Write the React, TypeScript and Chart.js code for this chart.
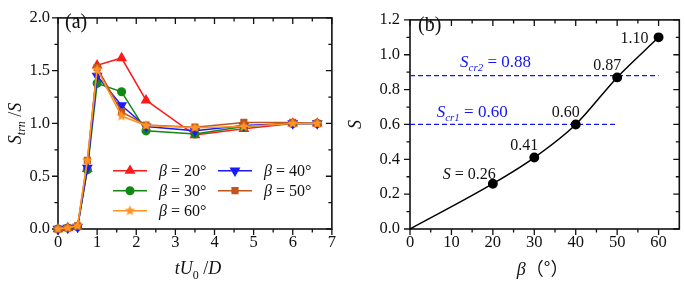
import React, { useEffect, useRef } from 'react';
import { Chart, registerables } from 'chart.js';
import { drawPoint } from 'chart.js/helpers';
Chart.register(...registerables);

// ---------- Panel (a) data ----------
const TIME = [0, 0.25, 0.5, 0.75, 1.0, 1.625, 2.25, 3.5, 4.75, 6.0, 6.625];
const S20 = [0, 0.01, 0.02, 0.57, 1.55, 1.62, 1.22, 0.89, 0.95, 1.0, 1.0];
const S30 = [0, 0.01, 0.02, 0.56, 1.38, 1.3, 0.93, 0.9, 0.97, 1.0, 1.0];
const S40 = [0, 0.01, 0.02, 0.58, 1.45, 1.17, 0.97, 0.93, 0.98, 1.0, 1.0];
const S50 = [0, 0.01, 0.03, 0.65, 1.53, 1.11, 0.985, 0.965, 1.01, 1.01, 1.0];
const S60 = [0, 0.01, 0.03, 0.65, 1.51, 1.07, 0.98, 0.96, 0.97, 1.0, 1.0];
const LEGEND_LABELS = ['β = 20°', 'β = 30°', 'β = 40°', 'β = 50°', 'β = 60°'];
const A_X_TICKS = [0, 1, 2, 3, 4, 5, 6, 7];
const A_Y_TICKS = [0, 0.5, 1.0, 1.5, 2.0];

// ---------- Panel (b) data ----------
const BETA = [0, 20, 30, 40, 50, 60];
const S_VAL = [0, 0.26, 0.41, 0.6, 0.87, 1.1];
const POINT_LABELS = ['', 'S = 0.26', '0.41', '0.60', '0.87', '1.10'];
const SCR_VALUES = [0.6, 0.88];
const SCR_ENDS = [50, 60];
const SCR_LABELS = [['S', 'cr1', ' = 0.60'], ['S', 'cr2', ' = 0.88']];
const B_X_TICKS = [0, 10, 20, 30, 40, 50, 60];
const B_Y_TICKS = [0, 0.2, 0.4, 0.6, 0.8, 1.0, 1.2];

const SERIF = "'Liberation Serif', 'Times New Roman', serif";
const RED = '#ff1a1a';
const GREEN = '#128a12';
const BLUE = '#1a1aff';
const BROWN = '#c0561a';
const ORANGE = '#ff9424';
const DASH_BLUE = '#1515f0';

type Part = { t: string; font: string; dy?: number };

function drawRich(ctx: CanvasRenderingContext2D, parts: Part[], x: number, y: number, align: 'left' | 'center' | 'right') {
  let w = 0;
  for (const p of parts) {
    ctx.font = p.font;
    w += ctx.measureText(p.t).width;
  }
  let cx = align === 'center' ? x - w / 2 : align === 'right' ? x - w : x;
  ctx.textAlign = 'left';
  ctx.textBaseline = 'alphabetic';
  for (const p of parts) {
    ctx.font = p.font;
    ctx.fillText(p.t, cx, y + (p.dy || 0));
    cx += ctx.measureText(p.t).width;
  }
}

function minors(arr: number[]) {
  return arr.slice(1).map((v, i) => (v + arr[i]) / 2);
}

function frameAndTicks(chart: any, xMajor: number[], yMajor: number[]) {
  const { ctx, chartArea } = chart;
  const { left, right, top, bottom } = chartArea;
  const xs = chart.scales.x;
  const ys = chart.scales.y;
  const MAJ = 6;
  const MIN = 3.5;
  ctx.save();
  ctx.strokeStyle = '#111';
  ctx.lineWidth = 1.6;
  ctx.strokeRect(left, top, right - left, bottom - top);
  ctx.lineWidth = 1.3;
  ctx.beginPath();
  const xm = minors(xMajor);
  const ym = minors(yMajor);
  const xTick = (v: number, len: number) => {
    const p = xs.getPixelForValue(v);
    ctx.moveTo(p, bottom);
    ctx.lineTo(p, bottom + len);
    ctx.moveTo(p, top);
    ctx.lineTo(p, top + len);
  };
  const yTick = (v: number, len: number) => {
    const p = ys.getPixelForValue(v);
    ctx.moveTo(left - len, p);
    ctx.lineTo(left, p);
    ctx.moveTo(right - len, p);
    ctx.lineTo(right, p);
  };
  xMajor.forEach((v) => xTick(v, MAJ));
  xm.forEach((v) => xTick(v, MIN));
  yMajor.forEach((v) => yTick(v, MAJ));
  ym.forEach((v) => yTick(v, MIN));
  ctx.stroke();
  ctx.restore();
}

function makeStar(color: string, R: number) {
  const c = document.createElement('canvas');
  const s = Math.ceil(2 * R + 2);
  c.width = s;
  c.height = s;
  const g = c.getContext('2d')!;
  g.fillStyle = color;
  g.beginPath();
  for (let i = 0; i < 10; i++) {
    const ang = -Math.PI / 2 + (i * Math.PI) / 5;
    const rr = i % 2 ? R * 0.45 : R;
    g.lineTo(s / 2 + rr * Math.cos(ang), s / 2 + rr * Math.sin(ang));
  }
  g.closePath();
  g.fill();
  return c;
}

function tickScale(ticks: number[], fmt: (v: number) => string, padding: number, fitSize: number, horizontal: boolean, min: number, max: number) {
  return {
    type: 'linear',
    min,
    max,
    afterBuildTicks: (s: any) => {
      s.ticks = ticks.map((v) => ({ value: v }));
    },
    afterFit: (s: any) => {
      if (horizontal) s.height = fitSize;
      else s.width = fitSize;
    },
    ticks: {
      autoSkip: false,
      maxRotation: 0,
      padding,
      color: '#111',
      font: { family: SERIF, size: 16.5 },
      callback: (v: any) => fmt(Number(v)),
    },
    grid: { display: false, drawTicks: false },
    border: { display: false },
  };
}

export default function App() {
  const refA = useRef<HTMLCanvasElement>(null);
  const refB = useRef<HTMLCanvasElement>(null);

  useEffect(() => {
    const star = makeStar(ORANGE, 5.5);
    const series = [
      { label: LEGEND_LABELS[0], data: S20, color: RED, style: 'triangle' as any, rotation: 0, radius: 4.8, order: 4 },
      { label: LEGEND_LABELS[1], data: S30, color: GREEN, style: 'circle' as any, rotation: 0, radius: 3.8, order: 3 },
      { label: LEGEND_LABELS[2], data: S40, color: BLUE, style: 'triangle' as any, rotation: 180, radius: 4.8, order: 2 },
      { label: LEGEND_LABELS[3], data: S50, color: BROWN, style: 'rect' as any, rotation: 0, radius: 4, order: 1 },
      { label: LEGEND_LABELS[4], data: S60, color: ORANGE, style: star as any, rotation: 0, radius: 5, order: 0 },
    ];

    const pluginA = {
      id: 'panelA',
      beforeDatasetsDraw(chart: any) {
        frameAndTicks(chart, A_X_TICKS, A_Y_TICKS);
      },
      afterDraw(chart: any) {
        const { ctx, chartArea } = chart;
        ctx.save();
        ctx.fillStyle = '#111';
        drawRich(ctx, [{ t: '(a)', font: `20px ${SERIF}` }], 65, 28, 'left');
        drawRich(
          ctx,
          [
            { t: 'tU', font: `italic 18px ${SERIF}` },
            { t: '0', font: `12px ${SERIF}`, dy: 5 },
            { t: ' /', font: `18px ${SERIF}` },
            { t: 'D', font: `italic 18px ${SERIF}` },
          ],
          (chartArea.left + chartArea.right) / 2 + 3,
          274,
          'center'
        );
        ctx.save();
        ctx.translate(20.5, (chartArea.top + chartArea.bottom) / 2);
        ctx.rotate(-Math.PI / 2);
        drawRich(
          ctx,
          [
            { t: 'S', font: `italic 18px ${SERIF}` },
            { t: 'trn', font: `italic 12px ${SERIF}`, dy: 4 },
            { t: ' /', font: `18px ${SERIF}` },
            { t: 'S', font: `italic 18px ${SERIF}` },
          ],
          0,
          0,
          'center'
        );
        ctx.restore();
        const slots = [
          [0, 0],
          [0, 1],
          [1, 0],
          [1, 1],
          [0, 2],
        ];
        const colX = [113, 218];
        const rowY = [170.7, 190.7, 210.7];
        series.forEach((s, i) => {
          const [c, r] = slots[i];
          const x0 = colX[c];
          const y0 = rowY[r];
          ctx.strokeStyle = s.color;
          ctx.lineWidth = 1.5;
          ctx.beginPath();
          ctx.moveTo(x0, y0);
          ctx.lineTo(x0 + 34, y0);
          ctx.stroke();
          ctx.fillStyle = s.color;
          drawPoint(ctx, { pointStyle: s.style, rotation: s.rotation, radius: s.radius, borderWidth: 1 } as any, x0 + 17, y0);
          ctx.fillStyle = '#111';
          drawRich(
            ctx,
            [
              { t: s.label.slice(0, 1), font: `italic 16px ${SERIF}` },
              { t: s.label.slice(1), font: `16px ${SERIF}` },
            ],
            x0 + 46,
            y0 + 5.5,
            'left'
          );
        });
        ctx.restore();
      },
    };

    const chartA = new Chart(refA.current!, {
      type: 'line',
      data: {
        datasets: series.map((s) => ({
          label: s.label,
          data: TIME.map((t, i) => ({ x: t, y: s.data[i] })),
          borderColor: s.color,
          backgroundColor: s.color,
          pointBackgroundColor: s.color,
          pointBorderColor: s.color,
          pointStyle: s.style,
          pointRotation: s.rotation,
          pointRadius: s.radius,
          borderWidth: 1.5,
          tension: 0,
          order: s.order,
          clip: false as any,
        })),
      },
      options: {
        animation: false,
        responsive: false,
        maintainAspectRatio: false,
        layout: { padding: { top: 6, right: 8, left: 0, bottom: 0 } },
        plugins: { legend: { display: false }, tooltip: { enabled: false } },
        scales: {
          x: tickScale(A_X_TICKS, (v) => String(v), 4, 55, true, 0, 7) as any,
          y: tickScale(A_Y_TICKS, (v) => v.toFixed(1), 8, 58, false, 0, 2) as any,
        },
      },
      plugins: [pluginA],
    });

    const pluginB = {
      id: 'panelB',
      beforeDatasetsDraw(chart: any) {
        frameAndTicks(chart, B_X_TICKS, B_Y_TICKS);
      },
      afterDraw(chart: any) {
        const { ctx, chartArea } = chart;
        const xs = chart.scales.x;
        const ys = chart.scales.y;
        ctx.save();
        ctx.fillStyle = '#111';
        drawRich(ctx, [{ t: '(b)', font: `20px ${SERIF}` }], chartArea.left + 8, 31, 'left');
        ctx.save();
        ctx.font = `italic 18px ${SERIF}`;
        const bw = ctx.measureText('β').width;
        ctx.font = `18px 'Noto Sans CJK SC', sans-serif`;
        const pw = ctx.measureText('（°）').width;
        const startX = (chartArea.left + chartArea.right) / 2 - 2 - (bw + pw) / 2;
        drawRich(
          ctx,
          [
            { t: 'β', font: `italic 18px ${SERIF}` },
            { t: '（°）', font: `18px 'Noto Sans CJK SC', sans-serif` },
          ],
          startX,
          275,
          'left'
        );
        ctx.restore();
        ctx.save();
        ctx.translate(21, (chartArea.top + chartArea.bottom) / 2);
        ctx.rotate(-Math.PI / 2);
        drawRich(ctx, [{ t: 'S', font: `italic 18px ${SERIF}` }], 0, 0, 'center');
        ctx.restore();
        for (let i = 1; i < BETA.length; i++) {
          const px = xs.getPixelForValue(BETA[i]);
          const py = ys.getPixelForValue(S_VAL[i]);
          const txt = POINT_LABELS[i];
          if (i === 1) {
            drawRich(
              ctx,
              [
                { t: txt.slice(0, 1), font: `italic 16px ${SERIF}` },
                { t: txt.slice(1), font: `16px ${SERIF}` },
              ],
              px + 3,
              py - 5,
              'right'
            );
          } else if (i === BETA.length - 1) {
            drawRich(ctx, [{ t: txt, font: `16px ${SERIF}` }], px - 10, py + 5.5, 'right');
          } else {
            drawRich(ctx, [{ t: txt, font: `16px ${SERIF}` }], px - 10, py - 7.5, 'center');
          }
        }
        ctx.fillStyle = DASH_BLUE;
        const offs = [26.7, 50];
        const dys = [-7, -9];
        SCR_VALUES.forEach((v, k) => {
          const [a, b, c] = SCR_LABELS[k];
          drawRich(
            ctx,
            [
              { t: a, font: `italic 17px ${SERIF}` },
              { t: b, font: `italic 11px ${SERIF}`, dy: 4 },
              { t: c, font: `17px ${SERIF}` },
            ],
            chartArea.left + offs[k],
            ys.getPixelForValue(v) + dys[k],
            'left'
          );
        });
        ctx.restore();
      },
    };

    const chartB = new Chart(refB.current!, {
      type: 'line',
      data: {
        datasets: [
          {
            data: BETA.map((b, i) => ({ x: b, y: S_VAL[i] })),
            borderColor: '#000',
            backgroundColor: '#000',
            pointBackgroundColor: '#000',
            pointBorderColor: '#000',
            pointRadius: BETA.map((b) => (b === 0 ? 0 : 4.2)),
            borderWidth: 1.5,
            cubicInterpolationMode: 'monotone',
            order: 0,
            clip: false as any,
          },
          ...SCR_VALUES.map((v, k) => ({
            data: [
              { x: 0, y: v },
              { x: SCR_ENDS[k], y: v },
            ],
            borderColor: DASH_BLUE,
            borderWidth: 1.3,
            borderDash: [5, 3],
            pointRadius: 0,
            order: 1,
          })),
        ] as any,
      },
      options: {
        animation: false,
        responsive: false,
        maintainAspectRatio: false,
        layout: { padding: { top: 8, right: 2, left: 0, bottom: 0 } },
        plugins: { legend: { display: false }, tooltip: { enabled: false } },
        scales: {
          x: tickScale(B_X_TICKS, (v) => String(v), 4, 55, true, 0, 65) as any,
          y: tickScale(B_Y_TICKS, (v) => v.toFixed(1), 10, 70, false, 0, 1.2) as any,
        },
      },
      plugins: [pluginB],
    });

    return () => {
      chartA.destroy();
      chartB.destroy();
    };
  }, []);

  return (
    <div style={{ position: 'fixed', left: 0, top: 0, width: 685, height: 284, background: '#fff' }}>
      <canvas ref={refA} width={340} height={284} style={{ position: 'absolute', left: 0, top: 0, width: 340, height: 284 }} />
      <canvas ref={refB} width={345} height={284} style={{ position: 'absolute', left: 340, top: 0, width: 345, height: 284 }} />
    </div>
  );
}
